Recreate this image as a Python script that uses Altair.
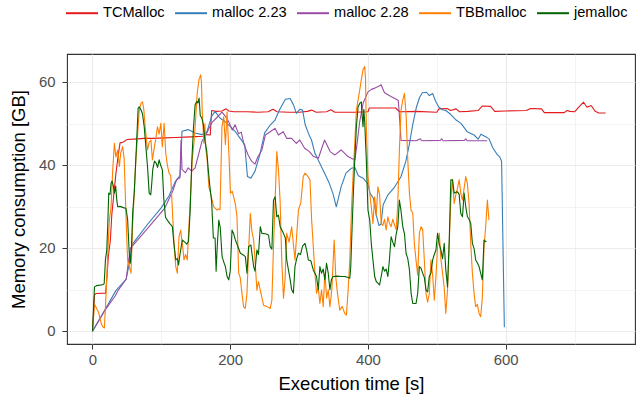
import altair as alt
import pandas as pd

FONT = "Liberation Sans"

allocators = ["TCMalloc", "malloc 2.23", "malloc 2.28", "TBBmalloc", "jemalloc"]
line_colors = ["#E41A1C", "#377EB8", "#984EA3", "#FF7F00", "#006400"]

x_ticks = [0, 100, 200, 300, 400, 500, 600, 700]
y_ticks = [0, 10, 20, 30, 40, 50, 60]

# (execution time [s], memory [GB])
tcmalloc = [
    (0, 0), (3, 8.8), (5, 9.1), (19, 9.2), (21, 13), (23, 18), (26, 22), (28, 28), (31, 33), (34, 38),
    (37, 42), (40, 45.4), (45, 45.6), (50, 46.2), (60, 46.3), (75, 46.5), (90, 46.5), (105, 46.6), (120, 46.7), (135, 46.8),
    (150, 46.9), (160, 47.0), (166, 47.4), (171, 47.3), (173, 53.2), (180, 53.0), (188, 53.1), (194, 53.6), (198, 53.1), (205, 52.9),
    (225, 52.9), (240, 52.8), (255, 52.9), (262, 53.5), (268, 52.9), (285, 52.8), (300, 52.8), (312, 53.0), (318, 53.3), (325, 52.8),
    (340, 52.9), (346, 53.4), (352, 52.8), (380, 52.8), (400, 52.9), (402, 53.8), (440, 53.8), (446, 52.9), (470, 53.0), (500, 52.8),
    (503, 53.6), (515, 53.7), (520, 53.2), (528, 53.6), (533, 52.9), (545, 53.0), (560, 53.2), (566, 54.3), (578, 54.2), (584, 53.0),
    (600, 53.1), (630, 53.2), (636, 53.7), (652, 53.6), (656, 52.7), (685, 52.7), (689, 53.2), (693, 53.0), (700, 52.9), (706, 54.0),
    (713, 55.2), (718, 54.0), (724, 54.4), (730, 53.0), (735, 52.6), (745, 52.6),
]

malloc_223 = [
    (0, 0), (20, 5.7), (34, 9.8), (49, 12.6), (53, 16.0), (58, 21.0), (80, 25.8), (100, 29.8), (111, 32.6), (120, 36.0),
    (127, 37.5), (128.5, 42.0), (130, 48.2), (139, 48.6), (149, 47.8), (159, 47.4), (166, 48.0), (173, 51.8), (178, 53.0), (185, 51.4),
    (192, 50.6), (200, 49.4), (207, 48.2), (214, 46.6), (221, 45.0), (225, 37.3), (230, 36.9), (236, 38.6), (243, 42.6), (250, 47.8),
    (258, 49.7), (265, 50.9), (272, 53.5), (280, 55.9), (287, 56.1), (292, 54.5), (296, 52.5), (301, 53.5), (305, 53.3), (309, 49.7),
    (314, 47.5), (318, 46.1), (323, 42.9), (330, 40.5), (337, 38.1), (343, 36.0), (349, 33.3), (354, 30.0), (361, 34.8), (368, 38.1),
    (376, 39.3), (381, 39.5), (386, 37.5), (393, 36.9), (400, 35.5), (403, 33.3), (408, 32.0), (412, 28.0), (416, 25.5), (419, 25.8),
    (422, 30.5), (429, 32.9), (438, 34.6), (448, 37.3), (455, 41.0), (460, 45.0), (465, 49.8), (470, 53.8), (475, 56.4), (479, 57.5),
    (485, 57.6), (489, 56.8), (494, 57.3), (498, 55.5), (503, 54.0), (508, 53.4), (513, 53.2), (520, 52.3), (528, 50.9), (535, 50.1),
    (544, 48.1), (554, 47.3), (560, 46.3), (564, 47.5), (571, 46.9), (576, 46.3), (581, 44.3), (588, 42.5), (591, 42.1), (594, 41.0),
    (598, 1.0),
]

malloc_228 = [
    (0, 0), (19, 5.3), (33, 8.5), (37, 9.8), (49, 12.6), (52, 16.6), (55, 20.0), (80, 24.8), (105, 29.7), (117, 34.0),
    (122, 36.5), (127, 37.0), (128.5, 46.0), (130, 39.0), (135, 38.2), (139, 39.4), (144, 38.6), (149, 39.4), (154, 42.6), (159, 45.8),
    (166, 47.8), (173, 50.2), (180, 51.4), (188, 52.8), (193, 51.8), (198, 50.4), (203, 48.5), (207, 49.8), (212, 47.6), (216, 48.0),
    (220, 45.0), (226, 42.5), (231, 41.0), (236, 40.3), (240, 42.0), (246, 43.7), (251, 47.3), (258, 48.1), (265, 48.9), (270, 47.3),
    (277, 48.1), (282, 46.5), (289, 46.5), (296, 45.3), (301, 46.1), (308, 44.1), (315, 43.3), (321, 42.1), (328, 41.7), (337, 46.1),
    (345, 43.3), (352, 42.5), (361, 43.7), (371, 42.1), (378, 41.5), (381, 41.3), (384, 45.0), (388, 50.5), (393, 55.0), (400, 57.7),
    (405, 58.3), (410, 58.6), (414, 58.9), (419, 59.4), (424, 57.5), (429, 57.0), (434, 56.5), (441, 55.9), (444, 55.6), (446, 51.0),
    (448, 46.0), (470, 45.9), (476, 46.4), (478, 45.9), (505, 46.0), (507, 46.4), (509, 45.9), (540, 46.0), (542, 46.4), (544, 45.9),
    (573, 45.9),
]

tbbmalloc = [
    (0, 0), (3, 6.5), (6, 5.5), (9, 4.5), (12.5, 2.0), (15, 1.1), (17.3, 0.8), (19.8, 9.2), (22, 18), (24.5, 26.8),
    (27, 30), (29.4, 38.9), (31.8, 45.3), (34, 42.0), (36.6, 43.7), (39, 39.7), (41, 43.0), (43.8, 44.5), (46, 41.5), (48.7, 27.6),
    (51, 17.2), (53.4, 15.6), (55.9, 14.0), (58.2, 25.2), (63, 41.3), (67.9, 53.3), (70.3, 54.9), (72.6, 55.3), (74.5, 53.5), (76.5, 49.3),
    (79.9, 43.7), (82.3, 45.5), (84.8, 46.1), (87, 41.3), (89.5, 44.0), (92, 46.5), (94.3, 49.3), (96.7, 47.5), (99.2, 50.1), (101.5, 44.5),
    (104, 50.1), (106.4, 42.9), (108.8, 40.0), (111.2, 38.1), (113.6, 37.5), (116, 29.2), (118.4, 21.2), (120.9, 15.6), (123.2, 14.0), (125.6, 22.8),
    (128.1, 24.4), (130.5, 21.0), (132.9, 17.2), (135.2, 18.5), (137.6, 17.2), (140, 25.2), (142.5, 33.3), (144.8, 41.3), (147.3, 45.3), (149.7, 50.9),
    (152, 57.3), (154.5, 60.6), (157, 61.8), (158.2, 60.0), (159.3, 53.3), (161.7, 45.3), (163.2, 50.0), (164.4, 44.2), (166.5, 41.3), (169, 34.8),
    (171.4, 33.3), (173.7, 31.6), (176, 30.0), (181, 29.2), (183, 29.5), (185.2, 29.3), (188, 49.3), (190.6, 51.7), (193, 45.0), (195.4, 52.9),
    (197.5, 45.0), (200.3, 33.3), (203, 33.7), (207.5, 30.6), (209.8, 27.6), (212.3, 14.0), (214.5, 13.0), (217, 9.2), (219.5, 5.9), (221.9, 5.5),
    (224.3, 9.2), (226.7, 19.6), (229.2, 28.4), (231.5, 24.0), (234, 22.0), (236.3, 16.4), (238.7, 9.9), (241, 12.0), (243.5, 10.0), (248.4, 6.3),
    (253, 6.0), (258, 5.5), (260.5, 7.5), (262.8, 20.4), (265.2, 31.6), (267.6, 43.3), (270, 39.0), (272.4, 31.6), (274.8, 17.2), (277.3, 8.0),
    (279.6, 12.5), (282, 23.6), (285.5, 21.5), (289.2, 25.2), (294, 17.2), (299, 29.2), (302.5, 31.0), (306, 37.3), (308.5, 38.1), (312, 37.5),
    (315.8, 36.5), (318.2, 26.8), (320.6, 20.4), (323, 14.0), (325.3, 9.2), (327.8, 10.5), (330.2, 6.7), (332.6, 10.0), (335, 5.9), (337.4, 14.0),
    (340, 8.0), (342.3, 10.0), (344.7, 5.9), (347.5, 10.0), (350.9, 22.0), (353.3, 13.0), (355.7, 9.2), (359, 5.1), (362.5, 6.0), (366.3, 4.3),
    (368.7, 3.9), (371.2, 10.0), (373.6, 17.2), (376, 29.2), (378.3, 37.3), (380.8, 45.3), (383.2, 53.3), (388, 58.1), (390.3, 60.6), (392.8, 63.0),
    (395.2, 63.8), (396.4, 61.0), (397.6, 49.3), (400, 37.3), (402.5, 33.3), (404.8, 30.0), (407.2, 26.0), (409.7, 32.4), (412, 28.0), (414.4, 34.8),
    (416.8, 33.0), (419.2, 26.0), (421.5, 25.5), (424, 27.0), (426.4, 24.4), (428.9, 27.6), (431.3, 26.0), (433.6, 25.2), (436, 27.0), (438.6, 25.6),
    (441, 24.5), (443.3, 30.8), (445.6, 43.7), (448, 53.3), (450.5, 55.7), (453, 57.3), (455.4, 52.0), (457.8, 41.3), (460.2, 33.3), (462.5, 29.2),
    (465, 28.5), (467.3, 21.2), (469.7, 17.2), (472.2, 13.5), (474.6, 23.6), (477, 25.2), (479.4, 24.5), (481.8, 17.2), (484.2, 9.2), (486.6, 7.0),
    (489, 9.0), (491.4, 17.2), (493.9, 13.5), (496.3, 7.5), (498.6, 13.0), (501, 20.4), (503.5, 23.6), (506, 17.2), (508.3, 14.0), (510.7, 10.5),
    (513, 4.3), (515.5, 10.0), (518, 21.2), (520.3, 31.6), (522.7, 36.5), (525.2, 30.8), (527.6, 33.0), (530, 34.5), (532.4, 36.5), (535, 33.0),
    (537.2, 31.6), (539.6, 34.5), (542, 37.3), (544.4, 35.5), (546.8, 30.8), (549.2, 21.2), (551.6, 14.0), (554, 9.2), (556.4, 5.9), (558.8, 6.5),
    (561.3, 4.3), (563.6, 3.5), (566, 8.0), (568.5, 20.4), (570.9, 25.2), (573.3, 31.6), (575.7, 26.8),
]

jemalloc = [
    (0, 0), (2.9, 10.7), (6, 11.0), (14.9, 11.2), (17, 11.5), (18.8, 17.2), (20.7, 19.5), (22.1, 25.2), (23.6, 33.3), (25.5, 33.0),
    (27, 35.7), (28.5, 36.2), (30.3, 35.0), (31.8, 33.3), (33.7, 35.0), (35, 32.1), (36.6, 30.0), (39.9, 30.1), (45, 29.8), (48.7, 29.6),
    (51, 27.0), (53.4, 18.8), (54.9, 16.4), (56.7, 20.5), (58.5, 28.9), (60.6, 33.3), (62.5, 40.0), (64, 45.3), (66.3, 53.8), (67.9, 54.1),
    (70, 53.5), (72.5, 52.5), (75.1, 49.3), (77.5, 44.5), (79.9, 39.7), (82.3, 33.3), (84.6, 32.9), (86, 35.5), (87.5, 39.0), (90, 41.0),
    (92.5, 40.5), (94.5, 39.5), (96.8, 41.3), (99, 40.0), (101.5, 38.9), (103.5, 32.0), (106, 27.5), (108.7, 26.8), (112, 26.0), (116, 25.2),
    (118, 21.5), (120.9, 17.2), (123.2, 17.5), (125, 16.0), (127, 18.5), (130.4, 22.0), (134, 21.5), (137, 21.0), (139.4, 21.7), (141.8, 28.9),
    (144.2, 41.0), (146.6, 49.0), (149, 54.6), (151.4, 55.4), (153, 55.0), (154.8, 56.2), (156.5, 52.0), (158.7, 51.4), (161, 49.8), (163.2, 46.0),
    (165.9, 43.4), (168.3, 38.6), (170.7, 34.5), (173, 31.3), (175.5, 22.5), (178, 22.5), (179.5, 14.5), (181, 20.0), (183.4, 26.8), (185.5, 25.0),
    (188.2, 18.0), (191, 16.5), (193, 15.6), (195.4, 13.2), (197.8, 12.4), (200, 14.5), (202.6, 24.4), (205, 23.5), (207.5, 22.0), (211, 20.5),
    (214.7, 18.8), (218, 18.5), (222, 18.0), (224.3, 14.0), (226.7, 20.4), (230, 20.8), (234, 15.6), (236, 14.5), (238.7, 19.6), (241, 18.5),
    (243.6, 25.2), (246, 23.6), (251, 23.5), (255.6, 23.2), (258, 20.4), (260.5, 19.8), (262.8, 31.6), (265.2, 32.4), (267.6, 27.6), (270, 28.0),
    (272.5, 25.2), (277.3, 23.6), (280, 22.5), (282, 17.2), (284.5, 14.8), (287, 12.5), (289.2, 10.0), (291.7, 9.2), (294, 15.6), (296.5, 17.5),
    (299, 18.8), (302, 18.5), (305, 20.5), (308.6, 21.2), (311, 19.5), (313.4, 17.2), (317, 17.0), (320.6, 14.8), (323, 14.0), (325.3, 13.2),
    (327.8, 10.0), (330.2, 15.6), (332.5, 14.0), (335, 15.0), (337.4, 12.4), (339.8, 16.4), (342.3, 14.0), (344.7, 10.0), (347, 12.5), (349.5, 13.2),
    (355, 13.3), (361.5, 13.2), (367, 13.2), (373.6, 12.8), (375, 15.6), (377, 25.2), (378.8, 33.3), (380.8, 41.3), (383.2, 49.3), (385.6, 54.1),
    (388, 54.9), (390.3, 55.3), (391.5, 52.0), (392.8, 49.3), (394, 53.5), (395.2, 50.5), (397.6, 41.3), (400, 29.2), (402.5, 26.8), (404.8, 21.2),
    (407.2, 17.2), (409.7, 13.2), (412, 12.0), (414.4, 11.6), (416.9, 11.2), (419.2, 13.2), (421.7, 15.6), (424, 14.5), (426.4, 15.0), (428.9, 13.2),
    (431, 17.0), (433.6, 22.8), (436, 21.5), (438.5, 20.4), (441, 23.5), (443.3, 25.2), (445.6, 31.6), (448, 29.0), (450.5, 25.2), (453, 23.5),
    (455.3, 18.8), (457.8, 17.5), (460.2, 14.8), (462.6, 9.2), (465, 6.7), (469.8, 6.7), (472.2, 9.2), (474.6, 15.6), (477, 15.2), (479.4, 14.0),
    (481.8, 13.0), (484.2, 10.0), (486.6, 9.5), (489, 13.2), (491.4, 14.0), (493.9, 17.2), (496.3, 18.5), (498.7, 19.6), (501, 23.6), (503.5, 21.0),
    (505.8, 19.6), (508.3, 17.5), (510.7, 21.2), (513, 14.8), (515.5, 10.7), (518, 22.0), (520.3, 36.5), (522.7, 36.5), (525.2, 33.3), (527.6, 33.5),
    (530, 33.6), (532.4, 33.0), (534.7, 28.4), (537.2, 27.6), (539.6, 33.3), (542, 30.0), (544.4, 27.6), (546.8, 27.0), (549.2, 26.0), (551.6, 21.2),
    (554, 20.0), (556.4, 17.2), (558.8, 16.5), (561.3, 15.6), (563.6, 14.0), (566, 12.4), (568.5, 22.0), (570.9, 21.6), (572, 21.7),
]

series = [tcmalloc, malloc_223, malloc_228, tbbmalloc, jemalloc]

x_enc = alt.X(
    "time:Q",
    scale=alt.Scale(domain=[-37, 787.7], nice=False, zero=False),
    axis=alt.Axis(
        values=x_ticks,
        labelExpr="datum.value % 200 == 0 ? datum.label : ''",
        title="Execution time [s]",
        grid=True,
        gridColor="#EBEBEB",
        gridWidth={"condition": {"test": "datum.value % 200 != 0", "value": 0.6}, "value": 1.2},
        tickOpacity={"condition": {"test": "datum.value % 200 != 0", "value": 0}, "value": 1},
        tickColor="#333333",
        tickSize=5,
        tickWidth=1,
        domain=False,
        labelColor="#4D4D4D",
        labelFont=FONT,
        labelFontSize=14.9,
        labelPadding=3,
        labelFlush=False,
        labelOverlap=False,
        titleFont=FONT,
        titleFontSize=18.5,
        titleFontWeight="normal",
        titleColor="black",
        titleX=284,
        titleY=39,
        titleBaseline="middle",
    ),
)

y_enc = alt.Y(
    "mem:Q",
    scale=alt.Scale(domain=[-3.06, 66.82], nice=False, zero=False),
    axis=alt.Axis(
        values=y_ticks,
        labelExpr="datum.value % 20 == 0 ? datum.label : ''",
        title="Memory consumption [GB]",
        grid=True,
        gridColor="#EBEBEB",
        gridWidth={"condition": {"test": "datum.value % 20 != 0", "value": 0.6}, "value": 1.2},
        tickOpacity={"condition": {"test": "datum.value % 20 != 0", "value": 0}, "value": 1},
        tickColor="#333333",
        tickSize=5,
        tickWidth=1,
        domain=False,
        labelColor="#4D4D4D",
        labelFont=FONT,
        labelFontSize=14.9,
        labelPadding=7,
        labelOverlap=False,
        titleFont=FONT,
        titleFontSize=18.5,
        titleFontWeight="normal",
        titleColor="black",
        titleX=-49,
        titleY=145,
        titleBaseline="middle",
    ),
)

color_enc = alt.Color(
    "allocator:N",
    scale=alt.Scale(domain=allocators, range=line_colors),
    legend=alt.Legend(
        title=None,
        orient="none",
        legendX=-2,
        legendY=-58,
        direction="horizontal",
        columns=5,
        symbolType="stroke",
        symbolSize=1024,
        symbolStrokeWidth=2,
        labelFont=FONT,
        labelFontSize=14.6,
        labelColor="black",
        labelOffset=4,
        columnPadding=6,
        padding=0,
    ),
)

layers = []
for name, pts in zip(allocators, series):
    df = pd.DataFrame(pts, columns=["time", "mem"])
    df["allocator"] = name
    layers.append(
        alt.Chart(df)
        .mark_line(strokeWidth=1.1, strokeJoin="round", clip=True)
        .encode(x=x_enc, y=y_enc, color=color_enc, order="time:Q")
    )

chart = (
    alt.layer(*layers)
    .properties(
        width=568,
        height=290,
        padding={"left": 67, "top": 54, "right": 4, "bottom": 55},
        autosize=alt.AutoSizeParams(type="none"),
        background="white",
    )
    .configure_view(stroke="#333333", strokeWidth=1.1)
)

chart.save("out.html", embed_options={"renderer": "svg", "actions": False})
